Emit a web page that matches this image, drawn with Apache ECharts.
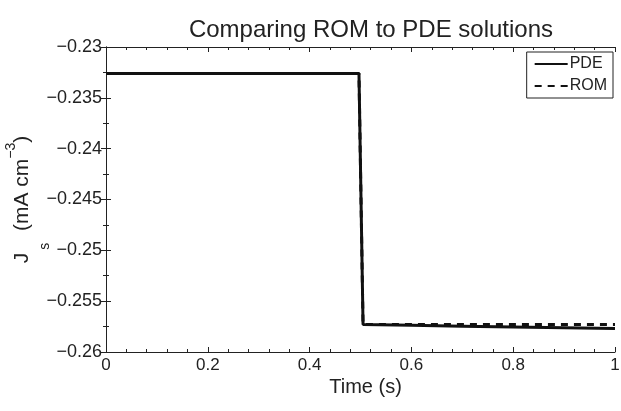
<!DOCTYPE html>
<html>
<head>
<meta charset="utf-8">
<script src="https://cdn.jsdelivr.net/npm/echarts@6/dist/echarts.min.js"></script>
<style>
  html, body { margin: 0; padding: 0; background: #fff; }
  #chart { width: 621px; height: 411px; }
</style>
</head>
<body>
<div id="chart"></div>
<script>
// time samples (s) and current density values
var timePoints = [0, 0.497, 0.505, 0.6, 0.7, 0.8, 0.9, 1.0];
var pdeValues = [-0.2326, -0.2326, -0.2573, -0.25738, -0.25746, -0.25754, -0.25762, -0.2577];
var romValues = [-0.2326, -0.2326, -0.2573, -0.2573, -0.2573, -0.2573, -0.2573, -0.2573];
var seriesNames = ['PDE', 'ROM'];

var FONT = 'Liberation Sans, Arial, Helvetica, sans-serif';

function pairs(xs, ys) {
  return xs.map(function (x, i) { return [x, ys[i]]; });
}
function fmtY(v) {
  return String(+v.toFixed(4)).replace('-', '\u2212');
}

var chart = echarts.init(document.getElementById('chart'));
var option = {
  animation: false,
  backgroundColor: '#fff',
  title: {
    text: 'Comparing ROM to PDE solutions',
    left: 366,
    textAlign: 'center',
    top: 13,
    textStyle: { fontFamily: FONT, fontSize: 24, fontWeight: 'normal', color: '#222' }
  },
  legend: {
    data: seriesNames,
    orient: 'vertical',
    right: 8,
    top: 52,
    itemWidth: 33,
    itemHeight: 14,
    itemGap: 6,
    padding: [4, 6, 4, 7],
    backgroundColor: '#fff',
    borderColor: '#222',
    borderWidth: 1,
    borderRadius: 0,
    itemStyle: { opacity: 0 },
    textStyle: { fontFamily: FONT, fontSize: 16, color: '#222', padding: [0, 0, 0, -3] }
  },
  grid: { left: 106, right: 6, top: 47, bottom: 59, containLabel: false, outerBoundsMode: 'none' },
  xAxis: [{
    type: 'value',
    min: 0, max: 1, interval: 0.2,
    name: 'Time (s)',
    nameLocation: 'middle',
    nameGap: 25,
    nameMoveOverlap: false,
    nameTextStyle: { fontFamily: FONT, fontSize: 20, color: '#222', padding: [0, 0, 0, 10] },
    axisLine: { lineStyle: { color: '#222', width: 1 } },
    axisTick: { inside: true, length: 5, lineStyle: { color: '#222' } },
    minorTick: { show: true, splitNumber: 5, length: 3, lineStyle: { color: '#222' } },
    axisLabel: { fontFamily: FONT, fontSize: 17, color: '#222', margin: 5 },
    splitLine: { show: false }
  }, {
    type: 'value', position: 'top',
    min: 0, max: 1, interval: 0.2,
    axisLine: { lineStyle: { color: '#222', width: 1 } },
    axisTick: { inside: true, length: 5, lineStyle: { color: '#222' } },
    minorTick: { show: true, splitNumber: 5, length: 3, lineStyle: { color: '#222' } },
    axisLabel: { show: false },
    splitLine: { show: false }
  }],
  yAxis: [{
    type: 'value',
    min: -0.26, max: -0.23, interval: 0.005,
    name: '{j|J}{s|s}{t| (mA cm}{sup|\u22123}{t|)}',
    nameLocation: 'middle',
    nameRotate: 90,
    nameGap: 54,
    nameMoveOverlap: false,
    nameTextStyle: {
      fontFamily: FONT, fontSize: 21, color: '#222',
      rich: {
        j: { fontFamily: FONT, fontSize: 21, color: '#222' },
        t: { fontFamily: FONT, fontSize: 21, color: '#222' },
        s: { fontFamily: FONT, fontSize: 14, color: '#222', padding: [46, 6, 0, 3] },
        sup: { fontFamily: FONT, fontSize: 14, color: '#222', padding: [0, 0, 22, 0] }
      }
    },
    axisLine: { lineStyle: { color: '#222', width: 1 } },
    axisTick: { inside: true, length: 5, lineStyle: { color: '#222' } },
    minorTick: { show: true, splitNumber: 2, length: 3, lineStyle: { color: '#222' } },
    axisLabel: { fontFamily: FONT, fontSize: 18, color: '#222', margin: 4, formatter: fmtY },
    splitLine: { show: false }
  }, {
    type: 'value', position: 'right',
    min: -0.26, max: -0.23, interval: 0.005,
    axisLine: { show: true, lineStyle: { color: '#222', width: 1 } },
    axisTick: { show: true, inside: true, length: 5, lineStyle: { color: '#222' } },
    minorTick: { show: true, splitNumber: 2, length: 3, lineStyle: { color: '#222' } },
    axisLabel: { show: false },
    splitLine: { show: false }
  }],
  series: [{
    name: seriesNames[0],
    type: 'line',
    data: pairs(timePoints, pdeValues),
    showSymbol: false,
    symbol: 'none',
    lineStyle: { color: '#111', width: 3, type: 'solid' },
    itemStyle: { color: '#111' },
    z: 3
  }, {
    name: seriesNames[1],
    type: 'line',
    data: pairs(timePoints, romValues),
    showSymbol: false,
    symbol: 'none',
    lineStyle: { color: '#111', width: 3, type: [7, 6] },
    itemStyle: { color: '#111' },
    z: 2
  }]
};
chart.setOption(option);
</script>
</body>
</html>
